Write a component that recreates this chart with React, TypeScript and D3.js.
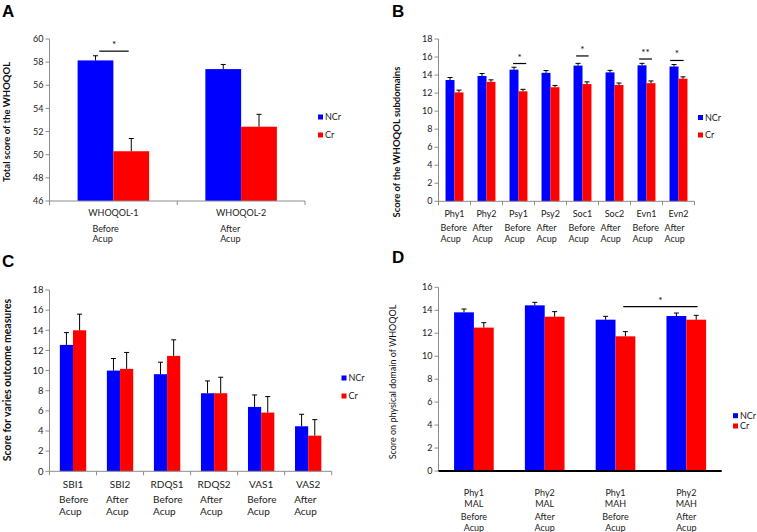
import React from "react";
import * as d3 from "d3";

// ---------- DATA ----------
const catsA = ["WHOQOL-1", "WHOQOL-2"];
const subA = [["Before", "Acup"], ["After", "Acup"]];
const ncrA = [58.15, 57.4];
const ncrErrA = [0.4, 0.4];
const crA = [50.3, 52.42];
const crErrA = [1.1, 1.07];

const catsB = ["Phy1", "Phy2", "Psy1", "Psy2", "Soc1", "Soc2", "Evn1", "Evn2"];
const subB = [["Before", "Acup"], ["After", "Acup"], ["Before", "Acup"], ["After", "Acup"], ["Before", "Acup"], ["After", "Acup"], ["Before", "Acup"], ["After", "Acup"]];
const ncrB = [13.45, 13.9, 14.6, 14.25, 15.05, 14.3, 15.08, 14.95];
const ncrErrB = [0.28, 0.27, 0.27, 0.25, 0.25, 0.22, 0.22, 0.22];
const crB = [12.08, 13.25, 12.2, 12.65, 13.0, 12.9, 13.1, 13.6];
const crErrB = [0.25, 0.22, 0.22, 0.2, 0.25, 0.22, 0.25, 0.2];

const catsC = ["SBI1", "SBI2", "RDQS1", "RDQS2", "VAS1", "VAS2"];
const subC = [["Before", "Acup"], ["After", "Acup"], ["Before", "Acup"], ["After", "Acup"], ["Before", "Acup"], ["After", "Acup"]];
const ncrC = [12.55, 10.0, 9.64, 7.75, 6.39, 4.47];
const ncrErrC = [1.22, 1.2, 1.19, 1.22, 1.19, 1.19];
const crC = [14.0, 10.17, 11.46, 7.75, 5.83, 3.54];
const crErrC = [1.6, 1.63, 1.59, 1.59, 1.59, 1.59];

const catsD = [["Phy1", "MAL"], ["Phy2", "MAL"], ["Phy1", "MAH"], ["Phy2", "MAH"]];
const subD = [["Before", "Acup"], ["After", "Acup"], ["Before", "Acup"], ["After", "Acup"]];
const ncrD = [13.82, 14.43, 13.18, 13.5];
const ncrErrD = [0.29, 0.26, 0.29, 0.26];
const crD = [12.49, 13.44, 11.73, 13.18];
const crErrD = [0.43, 0.44, 0.41, 0.38];

const seriesNames = ["NCr", "Cr"];
const colors = ["#0000FF", "#FF0000"];

// significance annotations: [startBand, endBand, yValue, label]
const sigA: [number, number, number, string][] = [[0.39, 0.62, 58.95, "*"]];
const sigB: [number, number, number, string][] = [
  [2.33, 2.74, 15.28, "*"],
  [4.3, 4.69, 16.12, "*"],
  [6.27, 6.67, 15.78, "**"],
  [7.24, 7.66, 15.62, "*"],
];
const sigC: [number, number, number, string][] = [];
const sigD: [number, number, number, string][] = [[2.61, 3.66, 14.31, "*"]];

const FONT = "Lato, 'Open Sans', sans-serif";

type Cfg = {
  letter: string; lx: number; ly: number;
  x0: number; x1: number; yTop: number; yBot: number;
  dmin: number; dmax: number; step: number;
  cats: string[][]; sub: string[][];
  ncr: number[]; ncrErr: number[]; cr: number[]; crErr: number[];
  sig: [number, number, number, string][];
  title: string; tx: number; ty: number; tBold: boolean; tSize: number;
  lab: { base: number[]; sub: number[]; subLeft: number | null; size: number };
  leg: { x: number; y: number[] };
  xTicks: boolean; darkX: boolean; tickSize: number;
};

function Panel({ c }: { c: Cfg }) {
  const n = c.ncr.length;
  const x = d3.scaleBand<number>().domain(d3.range(n)).range([c.x0, c.x1]).paddingInner(0).paddingOuter(0);
  const y = d3.scaleLinear().domain([c.dmin, c.dmax]).range([c.yBot, c.yTop]);
  const bw = x.bandwidth() * 0.28;
  const ticks = d3.range(c.dmin, c.dmax + c.step / 2, c.step);
  const bandPos = (b: number) => c.x0 + b * x.bandwidth();
  const axisCol = "#8c8c8c";
  const series = [
    { v: c.ncr, e: c.ncrErr, off: -bw },
    { v: c.cr, e: c.crErr, off: 0 },
  ];
  return (
    <g>
      <text x={c.lx} y={c.ly} fontFamily="'Liberation Sans', Arial, sans-serif" fontWeight="bold" fontSize={17}>{c.letter}</text>
      {/* bars */}
      {series.map((s, si) =>
        s.v.map((v, i) => {
          const cx = (x(i) as number) + x.bandwidth() / 2 + s.off;
          return (
            <g key={`${si}-${i}`}>
              <rect x={cx} y={y(v)} width={bw} height={c.yBot - y(v)} fill={colors[si]} />
              <line x1={cx + bw / 2} x2={cx + bw / 2} y1={y(v)} y2={y(v + s.e[i])} stroke="#000" strokeWidth={1} />
              <line x1={cx + bw / 2 - 2.5} x2={cx + bw / 2 + 2.5} y1={y(v + s.e[i])} y2={y(v + s.e[i])} stroke="#000" strokeWidth={1} />
            </g>
          );
        })
      )}
      {/* y axis */}
      <line x1={c.x0} x2={c.x0} y1={c.yTop} y2={c.yBot} stroke={axisCol} strokeWidth={1} />
      {ticks.map((t) => (
        <g key={t}>
          <line x1={c.x0 - 4} x2={c.x0} y1={y(t)} y2={y(t)} stroke={axisCol} />
          <text x={c.x0 - 6} y={y(t)} dy="0.35em" textAnchor="end" fontFamily={FONT} fontSize={c.tickSize} fill="#222">{t}</text>
        </g>
      ))}
      {/* x axis */}
      <line x1={c.x0} x2={c.x1} y1={c.yBot} y2={c.yBot} stroke={c.darkX ? "#000" : axisCol} strokeWidth={c.darkX ? 2 : 1} />
      {c.xTicks && d3.range(n + 1).map((i) => (
        <line key={i} x1={bandPos(i)} x2={bandPos(i)} y1={c.yBot} y2={c.yBot + 4} stroke={axisCol} />
      ))}
      {/* category labels */}
      {c.cats.map((lines, i) => {
        const cx = (x(i) as number) + x.bandwidth() / 2;
        return (
          <g key={i} fontFamily={FONT} fontSize={c.lab.size} fill="#222">
            {lines.map((t, li) => (
              <text key={li} x={cx} y={c.lab.base[li]} textAnchor="middle">{t}</text>
            ))}
            {c.sub[i].map((t, li) => (
              <text key={"s" + li} x={c.lab.subLeft === null ? cx : cx - c.lab.subLeft} y={c.lab.sub[li]} textAnchor={c.lab.subLeft === null ? "middle" : "start"}>{t}</text>
            ))}
          </g>
        );
      })}
      {/* significance */}
      {c.sig.map(([b0, b1, v, lab], i) => (
        <g key={i}>
          <line x1={bandPos(b0)} x2={bandPos(b1)} y1={y(v)} y2={y(v)} stroke="#000" strokeWidth={1.2} />
          <text x={(bandPos(b0) + bandPos(b1)) / 2} y={y(v) - 3} textAnchor="middle" fontFamily={FONT} fontSize={10}>{lab}</text>
        </g>
      ))}
      {/* y title */}
      <text transform={`translate(${c.tx},${c.ty}) rotate(-90)`} textAnchor="middle" fontFamily={FONT} fontWeight={c.tBold ? "bold" : "normal"} fontSize={c.tSize} fill="#111">{c.title}</text>
      {/* legend */}
      {seriesNames.map((nm, i) => (
        <g key={nm}>
          <rect x={c.leg.x} y={c.leg.y[i] - 2.5} width={5} height={5} fill={colors[i]} />
          <text x={c.leg.x + 7} y={c.leg.y[i]} dy="0.35em" fontFamily={FONT} fontSize={9} fill="#222">{nm}</text>
        </g>
      ))}
    </g>
  );
}

const panels: Cfg[] = [
  {
    letter: "A", lx: 2, ly: 17,
    x0: 49.5, x1: 305, yTop: 39, yBot: 201, dmin: 46, dmax: 60, step: 2,
    cats: catsA.map((c) => [c]), sub: subA, ncr: ncrA, ncrErr: ncrErrA, cr: crA, crErr: crErrA, sig: sigA,
    title: "Total score of the WHOQOL", tx: 10, ty: 122, tBold: true, tSize: 9.5,
    lab: { base: [216], sub: [232, 242], subLeft: 21, size: 9 },
    leg: { x: 318, y: [117, 135] }, xTicks: true, darkX: false, tickSize: 9,
  },
  {
    letter: "B", lx: 392, ly: 17,
    x0: 438.5, x1: 694.5, yTop: 39, yBot: 201.3, dmin: 0, dmax: 18, step: 2,
    cats: catsB.map((c) => [c]), sub: subB, ncr: ncrB, ncrErr: ncrErrB, cr: crB, crErr: crErrB, sig: sigB,
    title: "Score of the WHOQOL subdomains", tx: 400, ty: 142, tBold: true, tSize: 9.5,
    lab: { base: [217], sub: [231, 241.5], subLeft: 14, size: 9 },
    leg: { x: 698, y: [117.5, 135] }, xTicks: true, darkX: false, tickSize: 9,
  },
  {
    letter: "C", lx: 2, ly: 267,
    x0: 49.5, x1: 331.7, yTop: 290, yBot: 471.3, dmin: 0, dmax: 18, step: 2,
    cats: catsC.map((c) => [c]), sub: subC, ncr: ncrC, ncrErr: ncrErrC, cr: crC, crErr: crErrC, sig: sigC,
    title: "Score for varies outcome measures", tx: 10.5, ty: 380, tBold: true, tSize: 10.5,
    lab: { base: [488], sub: [503, 515], subLeft: 14, size: 10 },
    leg: { x: 341.5, y: [378, 396] }, xTicks: true, darkX: false, tickSize: 9.5,
  },
  {
    letter: "D", lx: 392, ly: 263,
    x0: 438.5, x1: 721.7, yTop: 287.3, yBot: 471, dmin: 0, dmax: 16, step: 2,
    cats: catsD, sub: subD, ncr: ncrD, ncrErr: ncrErrD, cr: crD, crErr: crErrD, sig: sigD,
    title: "Score on physical domain of WHOQOL", tx: 396, ty: 382, tBold: false, tSize: 9,
    lab: { base: [496, 507], sub: [520, 530.5], subLeft: null, size: 9 },
    leg: { x: 733, y: [415.7, 426] }, xTicks: false, darkX: true, tickSize: 9,
  },
];

export default function App() {
  return (
    <svg width={757} height={532} style={{ position: "absolute", left: 0, top: 0, background: "#fff" }}>
      <rect width={757} height={532} fill="#fff" />
      {panels.map((p) => <Panel key={p.letter} c={p} />)}
    </svg>
  );
}
